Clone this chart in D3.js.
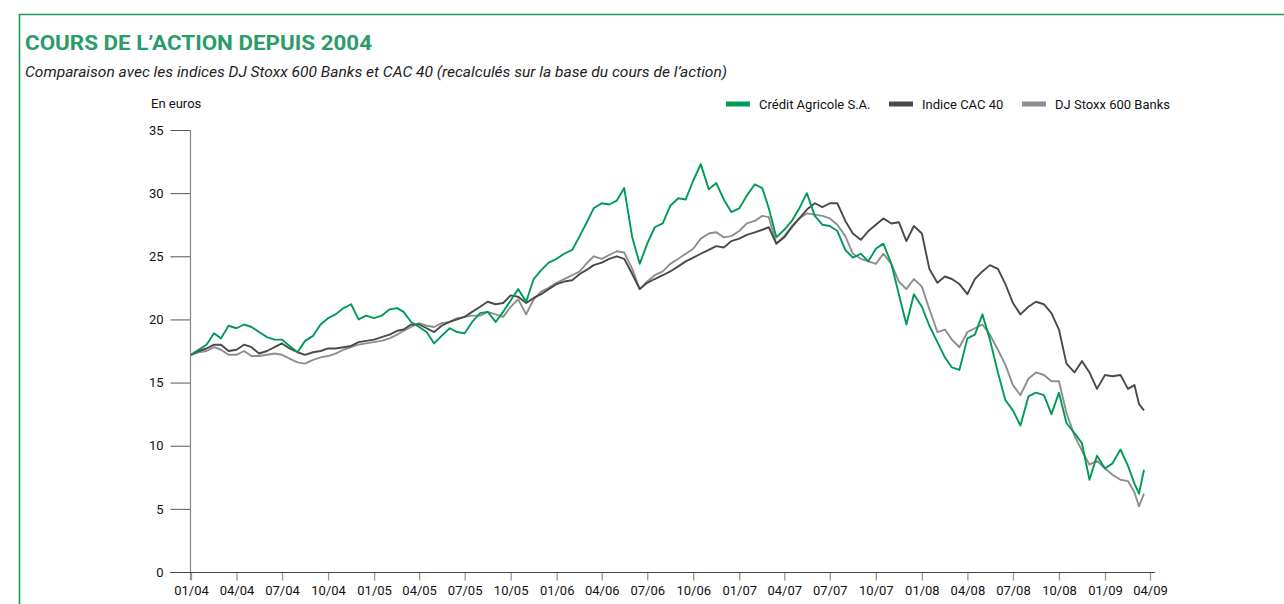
<!DOCTYPE html>
<html>
<head>
<meta charset="utf-8">
<script src="https://cdn.jsdelivr.net/npm/d3@7"></script>
<style>
  body { margin: 0; background: #fff; }
  svg text { font-family: Roboto, "Liberation Sans", sans-serif; }
</style>
</head>
<body>
<div id="viz-container"></div>
<script>
let w = 1284;
let h = 604;

// half-month sampling, Jan 2004 -> Mar 2009
let months = d3.range(0, 63);
let dates = [];
months.forEach(function(m){
  let yr = 2004 + Math.floor(m / 12);
  let mo = m % 12;
  dates.push(new Date(yr, mo, 1));
  dates.push(new Date(yr, mo, 16));
});
dates = dates.slice(0, 125);
dates.push(new Date(2009, 2, 10));
dates.push(new Date(2009, 2, 20));

let creditAgricole = [
  17.2, 17.6, 18.0, 18.9, 18.5, 19.5, 19.3, 19.6, 19.4, 19.0,
  18.6, 18.4, 18.4, 17.9, 17.4, 18.3, 18.7, 19.6, 20.1, 20.4,
  20.9, 21.2, 20.0, 20.3, 20.1, 20.3, 20.8, 20.9, 20.6, 19.8,
  19.4, 19.0, 18.1, 18.7, 19.3, 19.0, 18.9, 19.8, 20.5, 20.6,
  19.8, 20.6, 21.5, 22.4, 21.4, 23.2, 23.9, 24.5, 24.8, 25.2,
  25.5, 26.6, 27.6, 28.8, 29.2, 29.1, 29.4, 30.4, 26.5, 24.4,
  26.0, 27.3, 27.6, 29.0, 29.6, 29.5, 31.0, 32.3, 30.3, 30.8,
  29.5, 28.5, 28.8, 29.8, 30.7, 30.4, 28.8, 26.5, 27.1, 27.8,
  28.8, 30.0, 28.2, 27.5, 27.4, 27.0, 25.5, 24.9, 25.2, 24.6,
  25.6, 26.0, 24.4, 22.0, 19.6, 22.0, 21.0, 19.5, 18.2, 17.0,
  16.2, 16.0, 18.5, 18.8, 20.4, 18.4, 15.8, 13.6, 12.8, 11.6,
  13.9, 14.2, 14.0, 12.5, 14.2, 11.8, 11.0, 10.2, 7.3, 9.2,
  8.2, 8.6, 9.7, 8.4, 7.0, 6.2, 8.1
];

let cac40 = [
  17.2, 17.5, 17.7, 18.0, 18.0, 17.5, 17.6, 18.0, 17.8, 17.3,
  17.5, 17.8, 18.1, 17.7, 17.4, 17.2, 17.4, 17.5, 17.7, 17.7,
  17.8, 17.9, 18.2, 18.3, 18.4, 18.6, 18.8, 19.1, 19.2, 19.6,
  19.6, 19.3, 19.0, 19.5, 19.8, 20.0, 20.2, 20.6, 21.0, 21.4,
  21.2, 21.3, 21.9, 21.8, 21.3, 21.7, 22.0, 22.4, 22.8, 23.0,
  23.1, 23.6, 23.9, 24.3, 24.5, 24.8, 25.0, 24.8, 23.6, 22.4,
  22.9, 23.2, 23.5, 23.8, 24.2, 24.6, 24.9, 25.2, 25.5, 25.8,
  25.7, 26.2, 26.4, 26.7, 26.9, 27.1, 27.3, 26.0, 26.5, 27.3,
  28.0, 28.7, 29.2, 28.9, 29.2, 29.2, 27.8, 26.8, 26.3, 27.0,
  27.5, 28.0, 27.6, 27.7, 26.2, 27.4, 26.8, 24.0, 22.9, 23.4,
  23.2, 22.8, 22.0, 23.2, 23.8, 24.3, 24.0, 22.8, 21.3, 20.4,
  21.0, 21.4, 21.2, 20.5, 19.2, 16.5, 15.8, 16.7, 15.8, 14.5,
  15.6, 15.5, 15.6, 14.5, 14.8, 13.3, 12.8
];

let stoxxBanks = [
  17.2, 17.4, 17.5, 17.8, 17.6, 17.2, 17.2, 17.5, 17.1, 17.1,
  17.2, 17.3, 17.2, 16.9, 16.6, 16.5, 16.8, 17.0, 17.1, 17.3,
  17.6, 17.8, 18.0, 18.1, 18.2, 18.3, 18.5, 18.8, 19.1, 19.4,
  19.7, 19.5, 19.4, 19.7, 19.8, 20.1, 20.2, 20.3, 20.3, 20.6,
  20.4, 20.2, 21.0, 21.6, 20.4, 21.6, 22.2, 22.5, 22.9, 23.2,
  23.5, 23.8, 24.4, 25.0, 24.8, 25.1, 25.4, 25.3, 24.0, 22.4,
  23.0, 23.5, 23.8, 24.4, 24.8, 25.2, 25.6, 26.4, 26.8, 26.9,
  26.5, 26.6, 27.0, 27.6, 27.8, 28.2, 28.1, 26.0, 26.6, 27.4,
  28.0, 28.4, 28.3, 28.2, 28.0, 27.5, 26.6, 25.2, 24.8, 24.6,
  24.4, 25.2, 24.4, 23.0, 22.4, 23.2, 22.6, 20.8, 19.0, 19.2,
  18.4, 17.8, 19.0, 19.3, 19.6, 18.8, 17.6, 16.4, 14.8, 14.0,
  15.3, 15.8, 15.6, 15.1, 15.1, 12.6, 10.8, 9.6, 8.5, 8.8,
  8.2, 7.7, 7.3, 7.2, 6.3, 5.2, 6.2
];

let yTicks = [0, 5, 10, 15, 20, 25, 30, 35];
let xTickDates = d3.timeMonths(new Date(2004, 0, 1), new Date(2009, 3, 2), 3);

let seriesNames = ["Crédit Agricole S.A.", "Indice CAC 40", "DJ Stoxx 600 Banks"];
let seriesColors = ["#009a57", "#4a4a4a", "#8e8e8e"];

let viz = d3.select("#viz-container")
  .append("svg")
    .attr("width", w)
    .attr("height", h)
    .style("display", "block");

// green frame
viz.append("path")
  .attr("d", "M19.5,604 L19.5,14.5 L1284,14.5")
  .attr("fill", "none")
  .attr("stroke", "#1f9a5a")
  .attr("stroke-width", 1.6);

viz.append("text")
  .attr("x", 25)
  .attr("y", 50)
  .attr("font-size", 20)
  .attr("font-weight", "bold")
  .attr("fill", "#2a9c68")
  .attr("textLength", 347)
  .attr("lengthAdjust", "spacingAndGlyphs")
  .text("COURS DE L’ACTION DEPUIS 2004");

viz.append("text")
  .attr("x", 25)
  .attr("y", 77)
  .attr("font-size", 15.5)
  .attr("font-style", "italic")
  .attr("fill", "#222")
  .attr("textLength", 702)
  .attr("lengthAdjust", "spacingAndGlyphs")
  .text("Comparaison avec les indices DJ Stoxx 600 Banks et CAC 40 (recalculés sur la base du cours de l’action)");

let x = d3.scaleTime()
  .domain([new Date(2004, 0, 1), new Date(2009, 3, 1)])
  .range([191, 1150]);

let y = d3.scaleLinear()
  .domain([0, 35])
  .range([572, 130]);

// y axis
let yAxis = d3.axisLeft(y).tickValues(yTicks).tickSize(20).tickPadding(7);
let yg = viz.append("g").attr("transform", "translate(190.5,0)").call(yAxis);
yg.select(".domain").remove();
yg.selectAll(".tick line").attr("stroke", "#555");
yg.selectAll(".tick text").attr("font-size", 13).attr("fill", "#111")
  .attr("font-family", "Roboto, sans-serif");

viz.append("line")
  .attr("x1", 190.5).attr("x2", 190.5)
  .attr("y1", y(35)).attr("y2", 580)
  .attr("stroke", "#888").attr("stroke-width", 1.2);

viz.append("text")
  .attr("x", 151)
  .attr("y", 108)
  .attr("font-size", 13)
  .attr("fill", "#111")
  .text("En euros");

// x axis
let xAxis = d3.axisBottom(x).tickValues(xTickDates).tickFormat(d3.timeFormat("%m/%y")).tickSize(8).tickPadding(5);
let xg = viz.append("g").attr("transform", "translate(0,572.5)").call(xAxis);
xg.select(".domain").remove();
xg.selectAll(".tick line").attr("stroke", "#999").attr("stroke-width", 1.3);
xg.selectAll(".tick text").attr("font-size", 13).attr("fill", "#111")
  .attr("font-family", "Roboto, sans-serif");

viz.append("line")
  .attr("x1", 170).attr("x2", 1155)
  .attr("y1", 572.5).attr("y2", 572.5)
  .attr("stroke", "#444").attr("stroke-width", 1.2);

// lines
let allSeries = [stoxxBanks, cac40, creditAgricole];
let allColors = [seriesColors[2], seriesColors[1], seriesColors[0]];

let line = d3.line()
  .x(function(d, i){ return x(dates[i]); })
  .y(function(d){ return y(d); });

viz.selectAll(".series").data(allSeries).enter()
  .append("path")
    .attr("class", "series")
    .attr("d", line)
    .attr("fill", "none")
    .attr("stroke", function(d, i){ return allColors[i]; })
    .attr("stroke-width", 1.9)
    .attr("stroke-linejoin", "round");

// legend
let legendX = [726, 889, 1022];
let legend = viz.selectAll(".legend").data(seriesNames).enter()
  .append("g")
    .attr("class", "legend")
    .attr("transform", function(d, i){ return "translate(" + legendX[i] + ",104)"; });

legend.append("rect")
  .attr("x", 0).attr("y", -2.5)
  .attr("width", 24).attr("height", 5)
  .attr("fill", function(d, i){ return seriesColors[i]; });

legend.append("text")
  .attr("x", 33).attr("y", 4.5)
  .attr("font-size", 13)
  .attr("fill", "#111")
  .text(function(d){ return d; });
</script>
</body>
</html>
